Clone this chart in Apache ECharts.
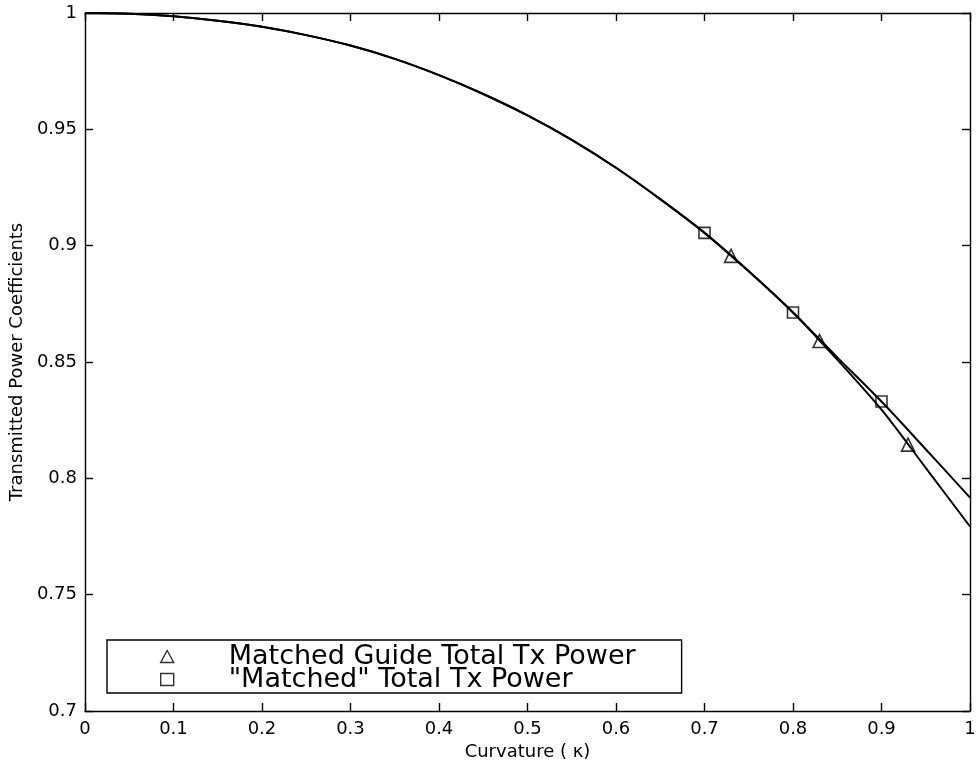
<!DOCTYPE html>
<html>
<head>
<meta charset="utf-8">
<script src="https://cdn.jsdelivr.net/npm/echarts@6/dist/echarts.min.js"></script>
<style>html,body{margin:0;padding:0;background:#fff;}#c{width:980px;height:773px;}</style>
</head>
<body>
<div id="c"></div>
<script>
// Shared part of both curves (x = curvature, y = transmitted power)
var sharedX = [0, 0.05, 0.1, 0.15, 0.2, 0.25, 0.3, 0.35, 0.4, 0.45, 0.5, 0.55, 0.6, 0.65, 0.7];
var sharedY = [1.0000, 0.9997, 0.9986, 0.9967, 0.9941, 0.9905, 0.9860, 0.9803, 0.9733, 0.9652, 0.9560, 0.9455, 0.9335, 0.9200, 0.9055];
// "Matched" total (upper tail)
var matchedX = [0.75, 0.8, 0.85, 0.9, 0.95, 1.0];
var matchedY = [0.8890, 0.8713, 0.8520, 0.8330, 0.8125, 0.7917];
// Matched guide total (lower tail)
var guideX = [0.75, 0.8, 0.85, 0.9, 0.95, 1.0];
var guideY = [0.8890, 0.8713, 0.8510, 0.8295, 0.8045, 0.7793];
// Marker positions
var triX = [0.73, 0.83, 0.93];
var triY = [0.8956, 0.8590, 0.8145];
var sqX = [0.7, 0.8, 0.9];
var sqY = [0.9055, 0.8713, 0.8330];
var seriesNames = ['Matched Guide Total Tx Power', '"Matched" Total Tx Power'];
var xTitle = 'Curvature ( \u03ba)';
var yTitle = 'Transmitted Power Coefficients';

function pairs(xs, ys) { return xs.map(function (x, i) { return [x, ys[i]]; }); }
var upper = pairs(sharedX, sharedY).concat(pairs(matchedX, matchedY));
var lower = pairs(sharedX, sharedY).concat(pairs(guideX, guideY));

var FONT = 'DejaVu Sans';
var chart = echarts.init(document.getElementById('c'), null, {renderer: 'canvas'});
var axisLine = {show: true, onZero: false, lineStyle: {color: '#000', width: 1.4}};
var tick = {show: true, inside: true, length: 8, lineStyle: {color: '#000', width: 1.4}};
function fmt(v) { return String(parseFloat(v.toFixed(2))); }

chart.setOption({
  backgroundColor: '#fff',
  animation: false,
  grid: {left: 81, right: 10, top: 13, bottom: 62, containLabel: false},
  xAxis: [
    {type: 'value', position: 'bottom', min: 0, max: 1, interval: 0.1,
     axisLine: axisLine, axisTick: tick, splitLine: {show: false},
     axisLabel: {color: '#000', fontFamily: FONT, fontSize: 18, margin: 9, formatter: fmt},
     name: xTitle, nameLocation: 'middle', nameGap: 31,
     nameTextStyle: {color: '#000', fontFamily: FONT, fontSize: 18}},
    {type: 'value', position: 'top', min: 0, max: 1, interval: 0.1,
     axisLine: axisLine, axisTick: tick, splitLine: {show: false}, axisLabel: {show: false}}
  ],
  yAxis: [
    {type: 'value', position: 'left', min: 0.7, max: 1, interval: 0.05,
     axisLine: axisLine, axisTick: tick, splitLine: {show: false},
     axisLabel: {color: '#000', fontFamily: FONT, fontSize: 18, margin: 8, formatter: fmt},
     name: yTitle, nameLocation: 'middle', nameGap: 56, nameRotate: 90,
     nameTextStyle: {color: '#000', fontFamily: FONT, fontSize: 18}},
    {type: 'value', position: 'right', min: 0.7, max: 1, interval: 0.05,
     axisLine: axisLine, axisTick: tick, splitLine: {show: false}, axisLabel: {show: false}}
  ],
  legend: {
    orient: 'vertical', left: 107, top: 640,
    padding: [3, 46, 0, 53],
    borderColor: '#000', borderWidth: 1.4, backgroundColor: '#fff',
    itemWidth: 13, itemHeight: 12, itemGap: -4,
    textStyle: {color: '#000', fontFamily: FONT, fontSize: 27,
                rich: {g: {width: 50, fontSize: 27}}},
    formatter: function (n) { return '{g|}' + n; },
    data: [
      {name: seriesNames[0], icon: 'triangle', itemStyle: {color: '#fff', borderColor: '#000', borderWidth: 1.4}},
      {name: seriesNames[1], icon: 'rect', itemStyle: {color: '#fff', borderColor: '#000', borderWidth: 1.4}}
    ]
  },
  series: [
    {type: 'line', name: 'upperCurve', data: upper, smooth: 0.3, showSymbol: false, symbol: 'none',
     lineStyle: {color: '#000', width: 2}, z: 2, silent: true},
    {type: 'line', name: 'lowerCurve', data: lower, smooth: 0.3, showSymbol: false, symbol: 'none',
     lineStyle: {color: '#000', width: 2}, z: 2, silent: true},
    {type: 'scatter', name: seriesNames[0], data: pairs(triX, triY), symbol: 'triangle', symbolSize: 13,
     itemStyle: {color: 'rgba(255,255,255,0)', borderColor: '#000', borderWidth: 1.6}, z: 3},
    {type: 'scatter', name: seriesNames[1], data: pairs(sqX, sqY), symbol: 'rect', symbolSize: 11,
     itemStyle: {color: 'rgba(255,255,255,0)', borderColor: '#000', borderWidth: 1.6}, z: 3}
  ]
});
</script>
</body>
</html>
